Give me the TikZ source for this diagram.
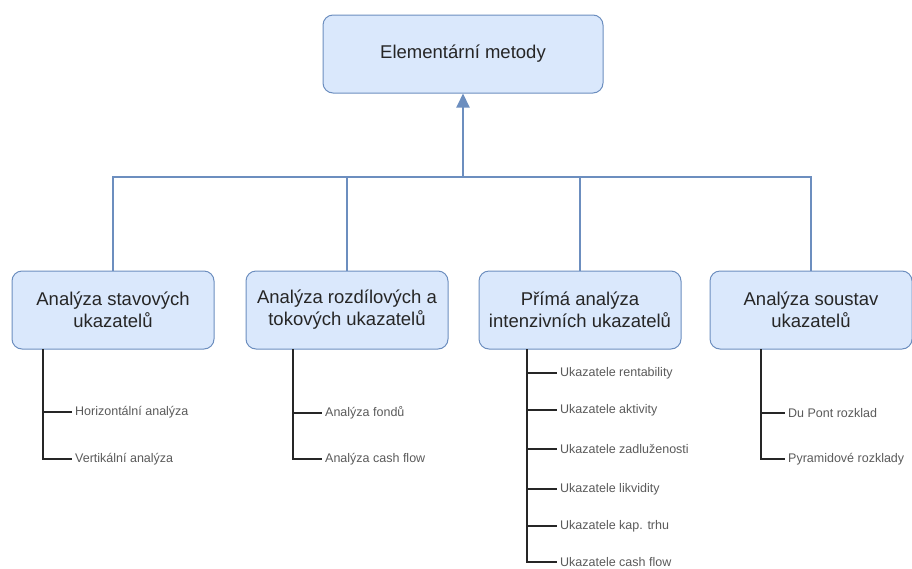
\documentclass[tikz,border=0pt]{standalone}
\usepackage{fontspec}
\setmainfont{Liberation Sans}
\usetikzlibrary{arrows.meta}
\definecolor{boxfill}{HTML}{DAE8FC}
\definecolor{boxline}{HTML}{6C8EBF}
\definecolor{itemtext}{HTML}{5A5A5A}

\begin{document}
\begin{tikzpicture}[x=1pt,y=-1pt]\tikzset{box/.style = {draw=boxline, fill=boxfill, rounded corners=10pt, line width=1pt, minimum width=202pt, minimum height=78pt, align=center, text=black!85, font=\fontsize{18.5}{22}\selectfont},
	item/.style = {anchor=west, inner sep=3pt, text=itemtext, font=\fontsize{12.5}{15}\selectfont},
	link/.style = {draw=boxline, line width=1.2pt},
	sub/.style = {draw=black!85, line width=1.3pt}}

		\useasboundingbox (0,0) rectangle (912,568);

		\node[box, minimum width=280pt] (top) at (463,54) {Elementární metody};
		\node[box] (stav) at (113,310) {Analýza stavových\\ukazatelů};
		\node[box] (rozd) at (347,310) {Analýza rozdílových a\\tokových ukazatelů};
		\node[box] (prima) at (580,310) {Přímá analýza\\intenzivních ukazatelů};
		\node[box] (soust) at (811,310) {Analýza soustav\\ukazatelů};
		\coordinate (bar) at (463,177);

		\draw[link] (stav.north) |- (bar);
		\draw[link] (rozd.north) |- (bar);
		\draw[link] (prima.north) |- (bar);
		\draw[link] (soust.north) |- (bar);
		\draw[link, line width=2pt, -{Triangle[length=14pt, width=13pt]}] (bar) -- (top.south);

		% first column
		\coordinate (t1) at (43,349);
		\node[item] (hor) at (72,412) {Horizontální analýza};
		\node[item] (vert) at (72,459) {Vertikální analýza};
		\draw[sub] (t1) |- (hor.west);
		\draw[sub] (t1) |- (vert.west);

		% second column
		\coordinate (t2) at (293,349);
		\node[item] (fond) at (322,413) {Analýza fondů};
		\node[item] (cash) at (322,459) {Analýza cash flow};
		\draw[sub] (t2) |- (fond.west);
		\draw[sub] (t2) |- (cash.west);

		% third column
		\coordinate (t3) at (527,349);
		\node[item] (rent) at (557,373) {Ukazatele rentability};
		\node[item] (akt) at (557,410) {Ukazatele aktivity};
		\node[item] (zadl) at (557,449) {Ukazatele zadluženosti};
		\node[item] (likv) at (557,489) {Ukazatele likvidity};
		\node[item] (trh) at (557,526) {Ukazatele kap. trhu};
		\node[item] (ucash) at (557,562) {Ukazatele cash flow};
		\foreach \n in {rent,akt,zadl,likv,trh,ucash}
			\draw[sub] (t3) |- (\n.west);

		% fourth column
		\coordinate (t4) at (761,349);
		\node[item] (dupont) at (785,413) {Du Pont rozklad};
		\node[item] (pyr) at (785,459) {Pyramidové rozklady};
		\draw[sub] (t4) |- (dupont.west);
		\draw[sub] (t4) |- (pyr.west);
	\end{tikzpicture}
\end{document}
